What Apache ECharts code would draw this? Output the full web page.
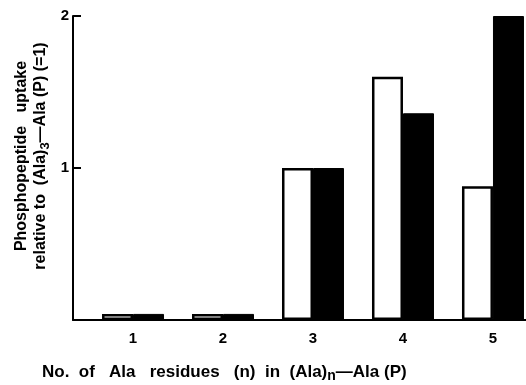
<!DOCTYPE html>
<html style="height: 100%">
   <head>
       <meta charset="utf-8">
   </head>
   <body style="height: 100%; margin: 0; background: #fff">
       <div id="container" style="width:526px;height:385px;"></div>
       <script src="https://cdn.jsdelivr.net/npm/echarts@6/dist/echarts.min.js"></script>
       <script type="text/javascript">
// n in (Ala)n-Ala(P)
var residues = [1, 2, 3, 4, 5];
// open bars / filled bars, relative uptake
var openBars = [0.04, 0.04, 1.0, 1.6, 0.88];
var filledBars = [0.04, 0.04, 1.0, 1.36, 2.0];
var yTicks = [1, 2];

var dom = document.getElementById("container");
var myChart = echarts.init(dom);
var font = 'Liberation Sans';

function pairs(vals) {
    return residues.map(function (n, i) { return [n, vals[i]]; });
}

function titleRich(size) {
    return {
        b: { fontFamily: font, fontWeight: 'bold', fontSize: size, fill: '#000', lineHeight: 19 },
        s: { fontFamily: font, fontWeight: 'bold', fontSize: size - 3, fill: '#000', lineHeight: 19, padding: [9, 0, 0, 0] }
    };
}

var option = {
    animation: false,
    backgroundColor: '#fff',
    grid: {
        left: 73,
        right: 0,
        top: 16,
        bottom: 65
    },
    xAxis: {
        type: 'value',
        min: 0.333,
        max: 5.367,
        splitLine: { show: false },
        axisLine: { lineStyle: { color: '#000', width: 2 } },
        axisTick: { show: false },
        axisLabel: {
            customValues: residues,
            color: '#000',
            fontFamily: font,
            fontWeight: 'bold',
            fontSize: 15,
            margin: 11
        }
    },
    yAxis: {
        type: 'value',
        min: 0,
        max: 2,
        interval: 1,
        splitLine: { show: false },
        axisLine: { show: true, lineStyle: { color: '#000', width: 2 } },
        axisTick: {
            inside: true,
            length: 8,
            customValues: yTicks,
            lineStyle: { color: '#000', width: 2 }
        },
        axisLabel: {
            customValues: yTicks,
            color: '#000',
            fontFamily: font,
            fontWeight: 'bold',
            fontSize: 15,
            margin: 4
        }
    },
    series: [
        {
            name: 'open',
            type: 'bar',
            data: pairs(openBars),
            barWidth: 31,
            barGap: '0%',
            itemStyle: { color: '#fff', borderColor: '#000', borderWidth: 2.5 }
        },
        {
            name: 'filled',
            type: 'bar',
            data: pairs(filledBars),
            barWidth: 31,
            barGap: '0%',
            itemStyle: { color: '#000', borderColor: '#000', borderWidth: 1 }
        }
    ],
    graphic: [
        {
            type: 'text',
            x: 31,
            y: 156,
            rotation: Math.PI / 2,
            style: {
                text: '{b|Phosphopeptide   uptake}\n{b|relative to  (Ala)}{s|3}{b|\u2014Ala (P) (=1)}',
                align: 'center',
                verticalAlign: 'middle',
                rich: titleRich(16)
            }
        },
        {
            type: 'text',
            x: 42,
            y: 372,
            style: {
                text: '{b|No.  of   Ala   residues   (n)  in  (Ala)}{s|n}{b|\u2014Ala (P)}',
                align: 'left',
                verticalAlign: 'middle',
                rich: titleRich(17)
            }
        }
    ]
};

if (option && typeof option === "object") {
    myChart.setOption(option, true);
}
       </script>
   </body>
</html>
